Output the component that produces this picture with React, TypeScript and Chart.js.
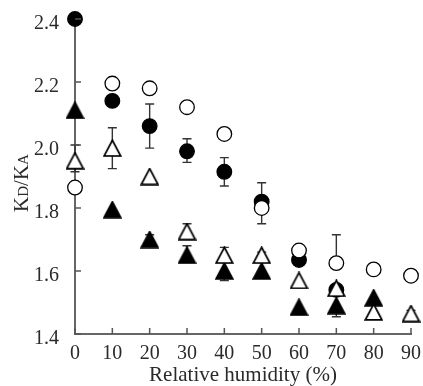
import React, { useEffect, useRef } from 'react';
import { Chart, registerables } from 'chart.js';
Chart.register(...registerables);

const humidity = [0, 10, 20, 30, 40, 50, 60, 70, 80, 90];
const filledCircle = [2.40, 2.14, 2.06, 1.98, 1.915, 1.82, 1.635, 1.54, null, null];
const openCircle = [1.865, 2.195, 2.18, 2.12, 2.035, 1.80, 1.665, 1.625, 1.605, 1.585];
const filledTriangle = [2.11, 1.795, 1.70, 1.65, 1.60, 1.60, 1.485, 1.49, 1.515, null];
const openTriangle = [1.95, 1.99, 1.90, 1.725, 1.65, 1.65, 1.57, 1.545, 1.47, 1.465];

const filledCircleErrUp = [0, 0, 0.07, 0.04, 0.045, 0.06, 0, 0, 0, 0];
const filledCircleErrDown = [0, 0, 0.07, 0.035, 0.045, 0, 0, 0, 0, 0];
const openCircleErrUp = [0, 0, 0, 0, 0, 0, 0, 0.09, 0, 0];
const openCircleErrDown = [0, 0, 0, 0, 0, 0.05, 0, 0, 0, 0];
const filledTriangleErrUp = [0, 0, 0.015, 0.03, 0, 0, 0, 0, 0, 0];
const filledTriangleErrDown = [0, 0, 0, 0, 0.03, 0, 0, 0.035, 0, 0];
const openTriangleErrUp = [0.05, 0.065, 0, 0.025, 0.025, 0.01, 0, 0, 0, 0.01];
const openTriangleErrDown = [0.035, 0.065, 0, 0, 0, 0, 0, 0, 0, 0];

const xTicks = [0, 10, 20, 30, 40, 50, 60, 70, 80, 90];
const yTicks = [1.4, 1.6, 1.8, 2.0, 2.2, 2.4];
const xTitle = 'Relative humidity (%)';
const yTitleParts = [
  { t: 'K', sub: false },
  { t: 'D', sub: true },
  { t: '/K', sub: false },
  { t: 'A', sub: true },
];

const SERIF = '"Liberation Serif", "DejaVu Serif", serif';
const TEXT = '#2a2a2a';

const pts = (vals: (number | null)[]) => humidity.map((x, i) => ({ x, y: vals[i] }));

function triangleMarker(filled: boolean) {
  const w = 19;
  const h = 18;
  const c = document.createElement('canvas');
  c.width = w;
  c.height = h;
  const ctx = c.getContext('2d')!;
  ctx.beginPath();
  ctx.moveTo(w / 2, 1.2);
  ctx.lineTo(w - 1.2, h - 1.2);
  ctx.lineTo(1.2, h - 1.2);
  ctx.closePath();
  ctx.fillStyle = filled ? '#000' : '#fff';
  ctx.fill();
  ctx.lineWidth = 1.8;
  ctx.lineJoin = 'miter';
  ctx.strokeStyle = '#000';
  ctx.stroke();
  return c;
}

export default function App() {
  const ref = useRef<HTMLCanvasElement | null>(null);
  useEffect(() => {
    const canvas = ref.current;
    if (!canvas) return;
    const errs: Record<number, { up: number[]; down: number[] }> = {
      0: { up: openTriangleErrUp, down: openTriangleErrDown },
      1: { up: openCircleErrUp, down: openCircleErrDown },
      2: { up: filledTriangleErrUp, down: filledTriangleErrDown },
      3: { up: filledCircleErrUp, down: filledCircleErrDown },
    };
    const seriesVals = [openTriangle, openCircle, filledTriangle, filledCircle];

    const decor = {
      id: 'decor',
      beforeDatasetsDraw(chart: any) {
        const ctx = chart.ctx;
        const xs = chart.scales.x;
        const ys = chart.scales.y;
        ctx.save();
        ctx.strokeStyle = '#333';
        ctx.lineWidth = 1.4;
        for (let d = 0; d < 4; d++) {
          const vals = seriesVals[d];
          const { up, down } = errs[d];
          humidity.forEach((h, i) => {
            const v = vals[i];
            if (v == null) return;
            const px = xs.getPixelForValue(h);
            const draw = (e: number) => {
              if (!e) return;
              const py0 = ys.getPixelForValue(v);
              const py1 = ys.getPixelForValue(v + e);
              ctx.beginPath();
              ctx.moveTo(px, py0);
              ctx.lineTo(px, py1);
              ctx.moveTo(px - 4.5, py1);
              ctx.lineTo(px + 4.5, py1);
              ctx.stroke();
            };
            draw(up[i]);
            draw(-down[i]);
          });
        }
        ctx.restore();
      },
      afterDraw(chart: any) {
        const ctx = chart.ctx;
        const xs = chart.scales.x;
        const ys = chart.scales.y;
        const area = chart.chartArea;
        ctx.save();
        ctx.strokeStyle = '#555';
        ctx.lineWidth = 1.5;
        xTicks.forEach((t) => {
          const px = xs.getPixelForValue(t);
          ctx.beginPath();
          ctx.moveTo(px, area.bottom);
          ctx.lineTo(px, area.bottom - 6);
          ctx.stroke();
        });
        yTicks.forEach((t) => {
          const py = ys.getPixelForValue(t);
          ctx.beginPath();
          ctx.moveTo(area.left, py);
          ctx.lineTo(area.left + 6, py);
          ctx.stroke();
        });
        // y title
        ctx.fillStyle = TEXT;
        ctx.textBaseline = 'alphabetic';
        ctx.textAlign = 'left';
        const big = `21px ${SERIF}`;
        const small = `15px ${SERIF}`;
        let total = 0;
        const widths = yTitleParts.map((p) => {
          ctx.font = p.sub ? small : big;
          const w = ctx.measureText(p.t).width;
          total += w;
          return w;
        });
        ctx.translate(28, 183);
        ctx.rotate(-Math.PI / 2);
        let x = -total / 2;
        yTitleParts.forEach((p, i) => {
          ctx.font = p.sub ? small : big;
          ctx.fillText(p.t, x, 0);
          x += widths[i];
        });
        ctx.restore();
      },
    };

    const mkCircle = (label: string, vals: (number | null)[], filled: boolean) => ({
      label,
      data: pts(vals),
      pointStyle: 'circle',
      pointRadius: 7.3,
      pointHoverRadius: 7.3,
      pointBackgroundColor: filled ? '#000' : '#fff',
      pointBorderColor: '#000',
      pointBorderWidth: 1.3,
      showLine: false,
      clip: false as any,
    });
    const mkTri = (label: string, vals: (number | null)[], filled: boolean) => ({
      label,
      data: pts(vals),
      pointStyle: triangleMarker(filled),
      pointRadius: 9,
      pointHoverRadius: 9,
      showLine: false,
      clip: false as any,
    });

    const chart = new Chart(canvas, {
      type: 'scatter',
      data: {
        datasets: [
          mkTri('open triangle', openTriangle, false),
          mkCircle('open circle', openCircle, false),
          mkTri('filled triangle', filledTriangle, true),
          mkCircle('filled circle', filledCircle, true),
        ] as any,
      },
      options: {
        animation: false,
        responsive: false,
        layout: { padding: { top: 19, right: 12, left: 0, bottom: 0 } },
        plugins: { legend: { display: false }, tooltip: { enabled: false } },
        scales: {
          x: {
            type: 'linear',
            min: 0,
            max: 90,
            afterBuildTicks: (s: any) => {
              s.ticks = xTicks.map((v) => ({ value: v }));
            },
            afterFit: (s: any) => {
              s.height = 52;
              s.paddingLeft = 0;
              s.paddingRight = 0;
            },
            ticks: {
              font: { family: SERIF, size: 20 },
              color: TEXT,
              padding: 8,
              maxRotation: 0,
              autoSkip: false,
            },
            grid: { display: true, drawOnChartArea: false, drawTicks: false },
            border: { display: true, color: '#666', width: 2 },
            title: {
              display: true,
              text: xTitle,
              font: { family: SERIF, size: 21, lineHeight: 1 },
              color: TEXT,
              padding: { top: 0, bottom: 0 },
            },
          },
          y: {
            type: 'linear',
            min: 1.4,
            max: 2.4,
            afterBuildTicks: (s: any) => {
              s.ticks = yTicks.map((v) => ({ value: v }));
            },
            afterFit: (s: any) => {
              s.width = 75;
              s.paddingTop = 0;
              s.paddingBottom = 0;
            },
            ticks: {
              font: { family: SERIF, size: 20 },
              color: TEXT,
              padding: 16,
              labelOffset: 5,
              callback: (v: any) => Number(v).toFixed(1),
            },
            grid: { display: true, drawOnChartArea: false, drawTicks: false },
            border: { display: true, color: '#666', width: 2 },
          },
        },
      },
      plugins: [decor],
    } as any);
    return () => chart.destroy();
  }, []);

  return (
    <div style={{ position: 'fixed', left: 0, top: 0, width: 423, height: 386, background: '#fff' }}>
      <canvas ref={ref} width={423} height={386} style={{ width: 423, height: 386 }} />
    </div>
  );
}
